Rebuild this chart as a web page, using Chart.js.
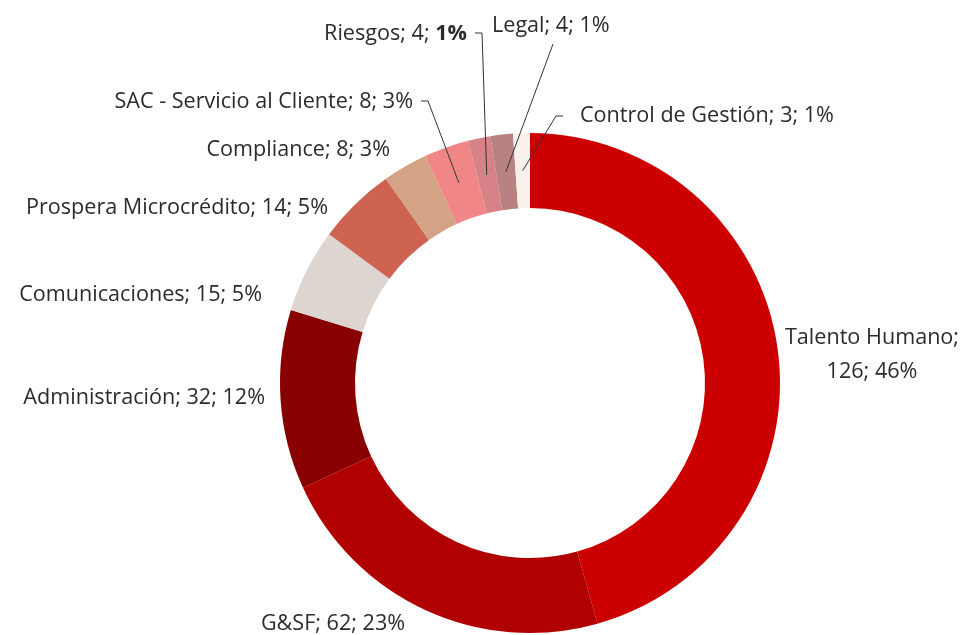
<!DOCTYPE html>
<html>
<head>
<meta charset="utf-8">
<script src="https://cdn.jsdelivr.net/npm/chart.js@4/dist/chart.umd.min.js"></script>
<style>
  html, body { margin: 0; padding: 0; background: #fff; }
  #wrap { width: 963px; height: 635px; }
</style>
</head>
<body>
<div id="wrap"><canvas id="areasChart" width="963" height="635"></canvas></div>
<script>
const categories = [
    "Talento Humano",
    "G&SF",
    "Administración",
    "Comunicaciones",
    "Prospera Microcrédito",
    "Compliance",
    "SAC - Servicio al Cliente",
    "Riesgos",
    "Legal",
    "Control de Gestión",
];
const values = [126, 62, 32, 15, 14, 8, 8, 4, 4, 3];
// percentages as printed on the chart
const percents = [46, 23, 12, 5, 5, 3, 3, 1, 1, 1];
const colors = [
    "#CC0000", "#B00000", "#880000", "#DDD5CF", "#CF6352",
    "#D4A385", "#F08686", "#D68286", "#B78281", "#F9F0EC",
];

// label placement relative to the doughnut centre
const labelLayout = [
    { dx: 342, dy: -45, align: "center", split: true },
    { dx: -197, dy: 241, align: "center" },
    { dx: -265, dy: 15, align: "right" },
    { dx: -268, dy: -88, align: "right" },
    { dx: -202, dy: -175, align: "right" },
    { dx: -140, dy: -233, align: "right" },
    { dx: -117, dy: -281, align: "right", leader: "elbow" },
    { dx: -63, dy: -349, align: "right", leader: "elbow", boldPct: true },
    { dx: -38, dy: -357, align: "left", leader: "below" },
    { dx: 50, dy: -267, align: "left", leader: "elbowLeft" },
];

const FONT = '"Open Sans", "Noto Sans", sans-serif';
const SIZE = "21.6px ";
const TEXT_COLOR = "#2b2b2b";

const outsideLabels = {
    id: "outsideLabels",
    afterDraw(chart) {
        const ctx = chart.ctx;
        const meta = chart.getDatasetMeta(0);
        ctx.save();
        ctx.textBaseline = "middle";
        ctx.strokeStyle = "#333333";
        ctx.lineWidth = 1;
        meta.data.forEach((arc, i) => {
            const lay = labelLayout[i];
            const cx = arc.x, cy = arc.y;
            const x = cx + lay.dx, y = cy + lay.dy;
            const pct = percents[i];
            const normal = SIZE + FONT;
            const bold = "bold " + SIZE + FONT;
            ctx.fillStyle = TEXT_COLOR;

            if (lay.split) {
                ctx.font = normal;
                ctx.textAlign = "center";
                ctx.fillText(categories[i] + ";", x, y);
                ctx.fillText(values[i] + "; " + pct + "%", x, y + 34);
                return;
            }

            const first = categories[i] + "; " + values[i] + "; ";
            const last = pct + "%";
            ctx.font = normal;
            const w1 = ctx.measureText(first).width;
            ctx.font = lay.boldPct ? bold : normal;
            const w2 = ctx.measureText(last).width;
            const w = w1 + w2;
            let left = x;
            if (lay.align === "right") left = x - w;
            else if (lay.align === "center") left = x - w / 2;
            ctx.textAlign = "left";
            ctx.font = normal;
            ctx.fillText(first, left, y);
            ctx.font = lay.boldPct ? bold : normal;
            ctx.fillText(last, left + w1, y);

            if (lay.leader) {
                const mid = (arc.startAngle + arc.endAngle) / 2;
                const r = (arc.innerRadius + arc.outerRadius) / 2;
                const ex = cx + Math.cos(mid) * r;
                const ey = cy + Math.sin(mid) * r;
                ctx.beginPath();
                if (lay.leader === "elbow") {
                    const sx = left + w + 8;
                    ctx.moveTo(sx, y - 1);
                    ctx.lineTo(sx + 7, y - 1);
                    ctx.lineTo(ex, ey);
                } else if (lay.leader === "elbowLeft") {
                    const sx = left - 17;
                    ctx.moveTo(sx, y);
                    ctx.lineTo(sx - 7, y);
                    ctx.lineTo(ex, ey);
                } else {
                    ctx.moveTo(left + 61, y + 18);
                    ctx.lineTo(ex, ey);
                }
                ctx.stroke();
            }
        });
        ctx.restore();
    },
};

const data = {
    labels: categories,
    datasets: [
        {
            data: values,
            backgroundColor: colors,
            borderWidth: 0,
        },
    ],
};

const config = {
    type: "doughnut",
    data: data,
    options: {
        responsive: false,
        animation: false,
        cutout: "70%",
        layout: {
            padding: { left: 280, right: 183, top: 133, bottom: 2 },
        },
        plugins: {
            legend: { display: false },
            tooltip: { enabled: false },
        },
    },
    plugins: [outsideLabels],
};

new Chart(document.getElementById("areasChart"), config);
</script>
</body>
</html>
